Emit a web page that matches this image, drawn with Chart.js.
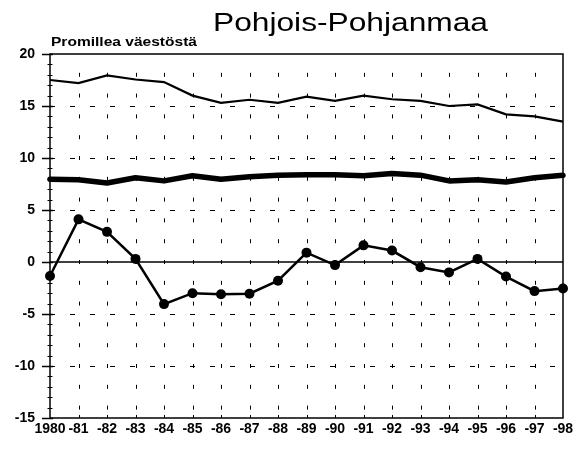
<!DOCTYPE html>
<html><head><meta charset="utf-8">
<script src="https://cdn.jsdelivr.net/npm/chart.js@4.4.0/dist/chart.umd.min.js"></script>
<style>html,body{margin:0;padding:0;background:#fff;} #wrap{width:582px;height:449px;}</style>
</head><body><div id="wrap"><canvas id="c" width="582" height="449"></canvas></div>
<script>
const categories = ['1980','-81','-82','-83','-84','-85','-86','-87','-88','-89','-90','-91','-92','-93','-94','-95','-96','-97','-98'];
const seriesTop = [17.5,17.2,17.95,17.55,17.3,16.0,15.3,15.6,15.3,15.9,15.5,16.0,15.65,15.5,15.0,15.15,14.2,14.0,13.5];
const seriesMiddle = [7.95,7.9,7.6,8.1,7.8,8.3,7.95,8.2,8.35,8.4,8.4,8.3,8.5,8.35,7.8,7.9,7.7,8.1,8.35];
const seriesBottom = [-1.35,4.1,2.9,0.3,-4.05,-3.0,-3.1,-3.05,-1.8,0.9,-0.3,1.6,1.1,-0.5,-1.0,0.3,-1.4,-2.8,-2.55];
const yTicks = [20,15,10,5,0,-5,-10,-15];
const dashedLevels = [15,10,5,-5,-10];
const titleText = 'Pohjois-Pohjanmaa';
const unitText = 'Promillea väestöstä';

const FONT = '"Liberation Sans", Arial, Helvetica, sans-serif';

const decor = {
  id: 'decor',
  beforeDatasetsDraw(chart) {
    const ctx = chart.ctx, ca = chart.chartArea;
    const xs = chart.scales.x, ys = chart.scales.y;
    ctx.save();
    ctx.strokeStyle = '#000';
    ctx.lineWidth = 1;
    ctx.setLineDash([5, 15]);
    dashedLevels.forEach(v => {
      const y = Math.round(ys.getPixelForValue(v)) + 0.5;
      ctx.beginPath(); ctx.moveTo(ca.left, y); ctx.lineTo(ca.right, y); ctx.stroke();
    });
    ctx.setLineDash([]);
    ctx.lineWidth = 1.5;
    const y0 = ys.getPixelForValue(0);
    ctx.beginPath(); ctx.moveTo(ca.left, y0); ctx.lineTo(ca.right, y0); ctx.stroke();
    ctx.lineWidth = 1;
    for (let i = 1; i < categories.length - 1; i++) {
      const x = Math.round(xs.getPixelForValue(i)) + 0.5;
      for (let v = -14; v <= 18; v += 2) {
        const y = ys.getPixelForValue(v);
        ctx.beginPath(); ctx.moveTo(x, y - 2); ctx.lineTo(x, y + 2); ctx.stroke();
      }
      ctx.beginPath(); ctx.moveTo(x, ca.bottom); ctx.lineTo(x, ca.bottom - 3); ctx.stroke();
    }
    for (let v = -15; v <= 20; v++) {
      const y = Math.round(ys.getPixelForValue(v)) + 0.5;
      ctx.beginPath();
      if (v % 5 === 0) { ctx.lineWidth = 1.5; ctx.moveTo(ca.left, y); ctx.lineTo(ca.left + 3, y); }
      else { ctx.lineWidth = 1; ctx.moveTo(ca.left - 2.5, y); ctx.lineTo(ca.left + 2.5, y); }
      ctx.stroke();
    }
    ctx.lineWidth = 1.5;
    ctx.strokeRect(ca.left, ca.top, ca.right - ca.left, ca.bottom - ca.top);
    ctx.restore();
  },
  afterDraw(chart) {
    const ctx = chart.ctx;
    ctx.save();
    ctx.fillStyle = '#000';
    ctx.textBaseline = 'alphabetic';
    ctx.textAlign = 'left';
    ctx.font = '25px ' + FONT;
    let w = ctx.measureText(titleText).width;
    ctx.save(); ctx.translate(213, 31); ctx.scale(275 / w, 1); ctx.fillText(titleText, 0, 0); ctx.restore();
    ctx.font = 'bold 12.5px ' + FONT;
    w = ctx.measureText(unitText).width;
    ctx.save(); ctx.translate(51, 46); ctx.scale(146 / w, 1); ctx.fillText(unitText, 0, 0); ctx.restore();
    ctx.restore();
  }
};

new Chart(document.getElementById('c'), {
  type: 'line',
  data: {
    labels: categories,
    datasets: [
      { data: seriesTop, borderColor: '#000', borderWidth: 2.2, pointRadius: 0, tension: 0, clip: false },
      { data: seriesMiddle, borderColor: '#000', borderWidth: 5.5, pointRadius: 0, tension: 0, clip: false, borderJoinStyle: 'round', borderCapStyle: 'round' },
      { data: seriesBottom, borderColor: '#000', borderWidth: 2.5, pointRadius: 5, pointBackgroundColor: '#000', pointBorderColor: '#000', pointBorderWidth: 0, tension: 0, clip: false }
    ]
  },
  options: {
    responsive: false,
    animation: false,
    devicePixelRatio: 1,
    layout: { padding: { left: 0, top: 54, right: 19, bottom: 0 } },
    plugins: { legend: { display: false }, tooltip: { enabled: false }, title: { display: false } },
    scales: {
      x: {
        type: 'category',
        offset: false,
        grid: { display: false },
        border: { display: false },
        ticks: { autoSkip: false, maxRotation: 0, minRotation: 0, padding: -5, color: '#000', font: { family: FONT, size: 14, weight: 'bold' } },
        afterFit(s) { s.height = 31; }
      },
      y: {
        min: -15, max: 20,
        afterBuildTicks(s) { s.ticks = yTicks.map(v => ({ value: v })); },
        grid: { display: true, drawOnChartArea: false, drawTicks: true, tickLength: 8, tickColor: '#000', tickWidth: 1.5 },
        border: { display: false },
        ticks: { padding: 7, color: '#000', font: { family: FONT, size: 14, weight: 'bold' } },
        afterFit(s) { s.width = 50; }
      }
    }
  },
  plugins: [decor]
});
</script>
</body></html>
